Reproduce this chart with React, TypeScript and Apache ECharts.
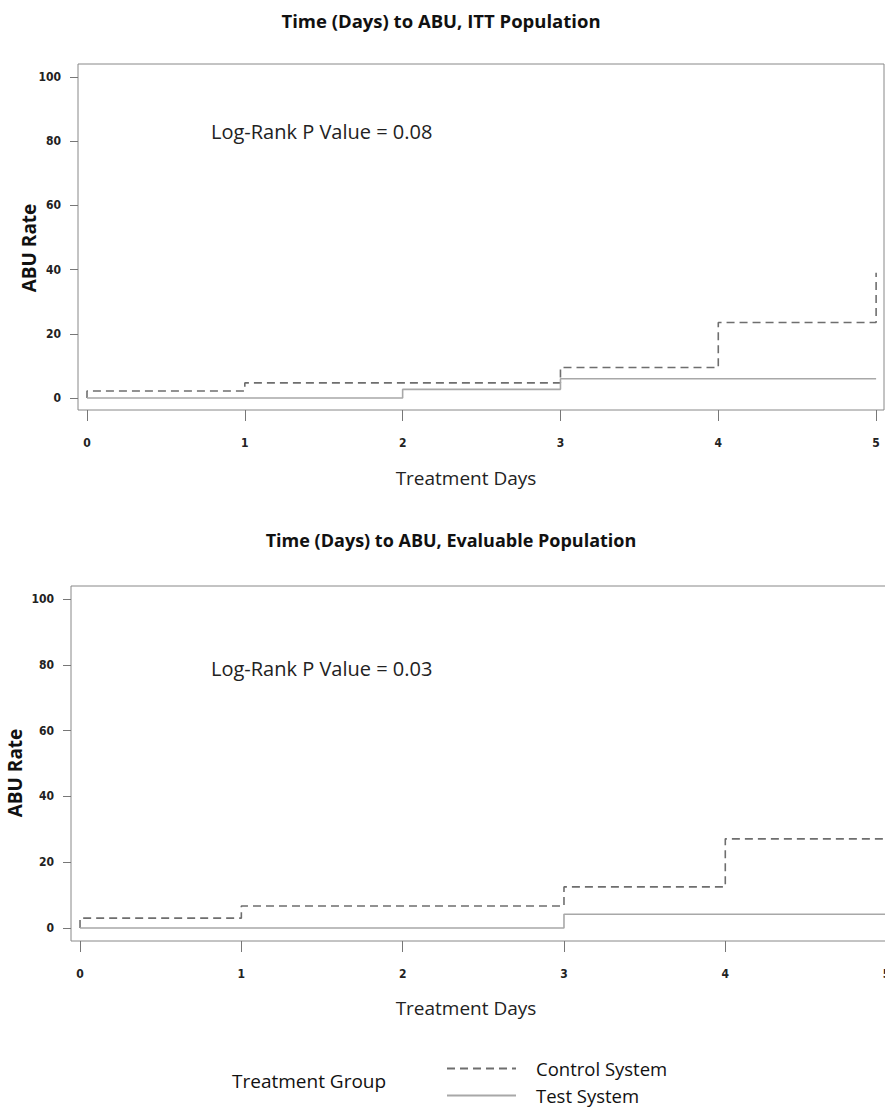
import React, { useEffect, useRef } from "react";
import * as echarts from "echarts";

// ITT population (top panel)
const ittControlDays = [0, 0, 1, 3, 4, 5];
const ittControlRate = [0, 2.2, 4.7, 9.5, 23.5, 39];
const ittTestDays = [0, 2, 3, 5];
const ittTestRate = [0, 2.7, 6.0, 6.0];

// Evaluable population (bottom panel)
const evalControlDays = [0, 0, 1, 3, 4, 5];
const evalControlRate = [0, 3.0, 6.7, 12.5, 27.1, 27.1];
const evalTestDays = [0, 3, 5];
const evalTestRate = [0, 4.2, 4.2];

const dayTicks = [0, 1, 2, 3, 4, 5];
const rateTicks = [0, 20, 40, 60, 80, 100];

const titles = ["Time (Days) to ABU, ITT Population", "Time (Days) to ABU, Evaluable Population"];
const pValues = ["Log-Rank P Value = 0.08", "Log-Rank P Value = 0.03"];
const groupNames = ["Control System", "Test System"];

const FONT = "'Open Sans', Lato, sans-serif";
const NARROW = "'Liberation Sans Narrow', 'Arial Narrow', 'DejaVu Sans Condensed', sans-serif";

const CHART_W = 905;

const pair = (xs: number[], ys: number[]) => xs.map((x, i) => [x, ys[i]]);

export default function App() {
  const ref = useRef<HTMLDivElement>(null);
  useEffect(() => {
    if (!ref.current) return;
    const chart = echarts.init(ref.current, null, { renderer: "svg" });

    const xAxisBase = (gridIndex: number, min: number, max: number) => ({
      type: "value",
      gridIndex,
      min,
      max,
      splitLine: { show: false },
      axisLine: { show: false, onZero: false },
      axisTick: { show: true, inside: false, length: 11, customValues: dayTicks, lineStyle: { color: "#777" } },
      axisLabel: { customValues: dayTicks, margin: 27, fontFamily: NARROW, fontSize: 12, color: "#222", fontWeight: "bold" },
    });
    const yAxisBase = (gridIndex: number, min: number, max: number) => ({
      type: "value",
      gridIndex,
      min,
      max,
      splitLine: { show: false },
      axisLine: { show: false, onZero: false },
      axisTick: { show: true, inside: false, length: 8, customValues: rateTicks, lineStyle: { color: "#777" } },
      axisLabel: { customValues: rateTicks, margin: 17, fontFamily: NARROW, fontSize: 12, color: "#222", fontWeight: "bold" },
    });

    const controlStyle = { color: "#6e6e6e", width: 1.6, type: [8, 5] };
    const testStyle = { color: "#a8a8a8", width: 1.6, type: "solid" };

    const mkSeries = (name: string, data: number[][], idx: number, style: any) => ({
      name,
      type: "line",
      step: "end",
      xAxisIndex: idx,
      yAxisIndex: idx,
      data,
      symbol: "none",
      lineStyle: style,
      itemStyle: { color: style.color },
    });

    const mkLegend = (name: string, top: number) => ({
      data: [name],
      orient: "horizontal",
      left: 446,
      top,
      padding: 0,
      itemWidth: 69,
      itemHeight: 14,
      itemStyle: { opacity: 0 },
      textStyle: { fontFamily: FONT, fontSize: 18.5, color: "#111", padding: [0, 0, 0, 15] },
    });

    chart.setOption({
      animation: false,
      backgroundColor: "#fff",
      grid: [
        { left: 78, top: 64, width: 806, height: 346, show: true, borderColor: "#888", borderWidth: 1 },
        { left: 71, top: 586, width: 824, height: 355, show: true, borderColor: "#888", borderWidth: 1 },
      ],
      xAxis: [xAxisBase(0, -0.057, 5.05), xAxisBase(1, -0.056, 5.052)],
      yAxis: [yAxisBase(0, -3.74, 104.05), yAxisBase(1, -3.95, 103.95)],
      legend: [mkLegend(groupNames[0], 1059), mkLegend(groupNames[1], 1086)],
      series: [
        mkSeries(groupNames[0], pair(ittControlDays, ittControlRate), 0, controlStyle),
        mkSeries(groupNames[1], pair(ittTestDays, ittTestRate), 0, testStyle),
        mkSeries(groupNames[0], pair(evalControlDays, evalControlRate), 1, controlStyle),
        mkSeries(groupNames[1], pair(evalTestDays, evalTestRate), 1, testStyle),
      ],
      graphic: [
        { type: "text", x: 441, y: 20, style: { text: titles[0], font: `bold 18.5px ${FONT}`, fill: "#111", textAlign: "center", textVerticalAlign: "middle" } },
        { type: "text", x: 451, y: 540, style: { text: titles[1], font: `bold 18px ${FONT}`, fill: "#111", textAlign: "center", textVerticalAlign: "middle" } },
        { type: "text", x: 29, y: 248, rotation: Math.PI / 2, style: { text: "ABU Rate", font: `bold 19px ${FONT}`, fill: "#111", textAlign: "center", textVerticalAlign: "middle" } },
        { type: "text", x: 15, y: 773, rotation: Math.PI / 2, style: { text: "ABU Rate", font: `bold 19px ${FONT}`, fill: "#111", textAlign: "center", textVerticalAlign: "middle" } },
        { type: "text", x: 211, y: 131, style: { text: pValues[0], font: `20px ${FONT}`, fill: "#222", textAlign: "left", textVerticalAlign: "middle" } },
        { type: "text", x: 211, y: 668, style: { text: pValues[1], font: `20px ${FONT}`, fill: "#222", textAlign: "left", textVerticalAlign: "middle" } },
        { type: "text", x: 466, y: 478, style: { text: "Treatment Days", font: `19px ${FONT}`, fill: "#222", textAlign: "center", textVerticalAlign: "middle" } },
        { type: "text", x: 466, y: 1008, style: { text: "Treatment Days", font: `19px ${FONT}`, fill: "#222", textAlign: "center", textVerticalAlign: "middle" } },
        { type: "text", x: 232, y: 1081, style: { text: "Treatment Group", font: `19px ${FONT}`, fill: "#111", textAlign: "left", textVerticalAlign: "middle" } },
      ],
    });
    return () => chart.dispose();
  }, []);
  return (
    <div style={{ position: "absolute", left: 0, top: 0, width: 885, height: 1110, overflow: "hidden" }}>
      <div ref={ref} style={{ width: CHART_W, height: 1110 }} />
    </div>
  );
}
